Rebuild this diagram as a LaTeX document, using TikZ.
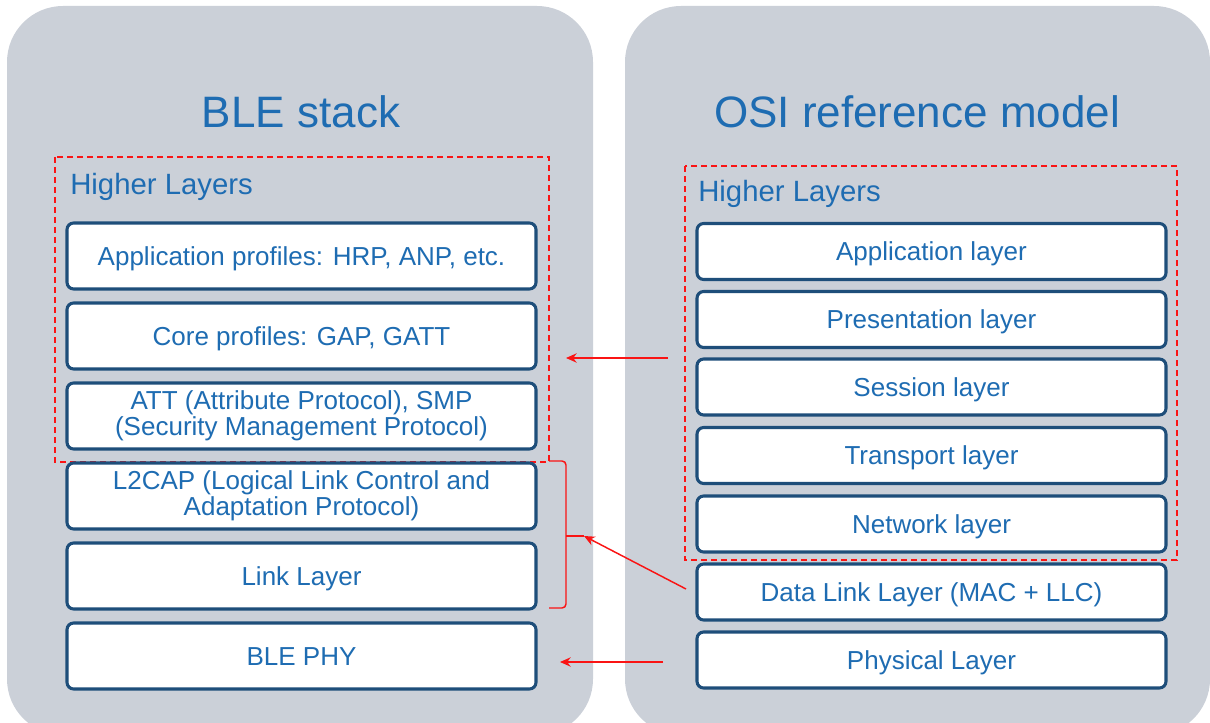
\documentclass[tikz,border=0pt]{standalone}
\usepackage{fontspec}
\setmainfont{Liberation Sans}
\usetikzlibrary{arrows.meta}
\definecolor{panel}{RGB}{203,208,216}
\definecolor{txtblue}{RGB}{30,108,178}
\definecolor{boxblue}{RGB}{30,78,122}
\definecolor{myred}{RGB}{250,20,20}
\tikzset{
  layerbox/.style={draw=boxblue, line width=2.3pt, fill=white, rounded corners=5pt,
    minimum width=469*0.75pt, text=txtblue, font=\fontsize{19.5}{20}\selectfont, align=center, inner sep=0pt,
    execute at begin node={\rule{0pt}{18.3pt}}, execute at end node={\rule[-4.3pt]{0pt}{0pt}}},
  blebox/.style={layerbox, minimum height=66*0.75pt},
  twoline/.style={execute at begin node={\rule{0pt}{21.8pt}}},
  osibox/.style={layerbox, minimum height=56*0.75pt},
  dashbox/.style={draw=myred, line width=1.1pt, dash pattern=on 4.5pt off 3pt},
  arr/.style={draw=myred, line width=1.1pt, -{Stealth[length=8pt,width=7pt]}},
  title/.style={text=txtblue, font=\fontsize{33}{36}\selectfont, text height=23.6pt, text depth=0pt},
  hl/.style={text=txtblue, font=\fontsize{22}{25}\selectfont, anchor=west, inner sep=0pt, text height=15.75pt, text depth=0pt},
}
\begin{document}
\begin{tikzpicture}[x=0.75pt,y=-0.75pt]
\useasboundingbox (0,0) rectangle (1210,723);
\clip (0,0) rectangle (1210,723);
% panels
\fill[panel, rounded corners=42pt] (7,6) rectangle (593,735);
\fill[panel, rounded corners=42pt] (625,6) rectangle (1210,735);
% titles
\node[title] (t1) at (301,112) {BLE stack};
\node[title] (t2) at (917,112) {OSI reference model};
% dashed boxes
\draw[dashbox] (55,157) rectangle (549,462);
\draw[dashbox] (685,166) rectangle (1177,560);
\node[hl] (hl1) at (70,184) {Higher Layers};
\node[hl] (hl2) at (698,191) {Higher Layers};
% BLE boxes
\node[blebox] (app)  at (301.5,256) {Application profiles: HRP, ANP, etc.};
\node[blebox] (core) at (301.5,336) {Core profiles: GAP, GATT};
\node[blebox, twoline] (att)  at (301.5,416) {ATT (Attribute Protocol), SMP\\(Security Management Protocol)};
\node[blebox, twoline] (l2)   at (301.5,496) {L2CAP (Logical Link Control and\\Adaptation Protocol)};
\node[blebox] (ll)   at (301.5,576) {Link Layer};
\node[blebox] (phy)  at (301.5,656) {BLE PHY};
% OSI boxes
\node[osibox] (oapp) at (931.5,251.5) {Application layer};
\node[osibox] (opre) at (931.5,319.5) {Presentation layer};
\node[osibox] (oses) at (931.5,387) {Session layer};
\node[osibox] (otra) at (931.5,455.5) {Transport layer};
\node[osibox] (onet) at (931.5,524) {Network layer};
\node[osibox] (odl)  at (931.5,592) {Data Link Layer (MAC + LLC)};
\node[osibox] (ophy) at (931.5,660) {Physical Layer};
% bracket
\coordinate (btop) at (549,461);
\coordinate (bbot) at (549,608);
\coordinate (bmid) at (566,536);
\coordinate (btip) at (584,536);
\draw[myred, line width=1.1pt, rounded corners=3pt] (btop) -- (566,461) -- (566,608) -- (bbot);
\draw[myred, line width=1.1pt] (bmid) -- (btip);
% arrows
\coordinate (a1s) at (668,358);
\coordinate (a1e) at (566,358);
\draw[arr] (a1s) -- (a1e);
\coordinate (a2s) at (686,589);
\draw[arr] (a2s) -- (btip);
\coordinate (a3s) at (663,662);
\coordinate (a3e) at (560,662);
\draw[arr] (a3s) -- (a3e);
\end{tikzpicture}
\end{document}
